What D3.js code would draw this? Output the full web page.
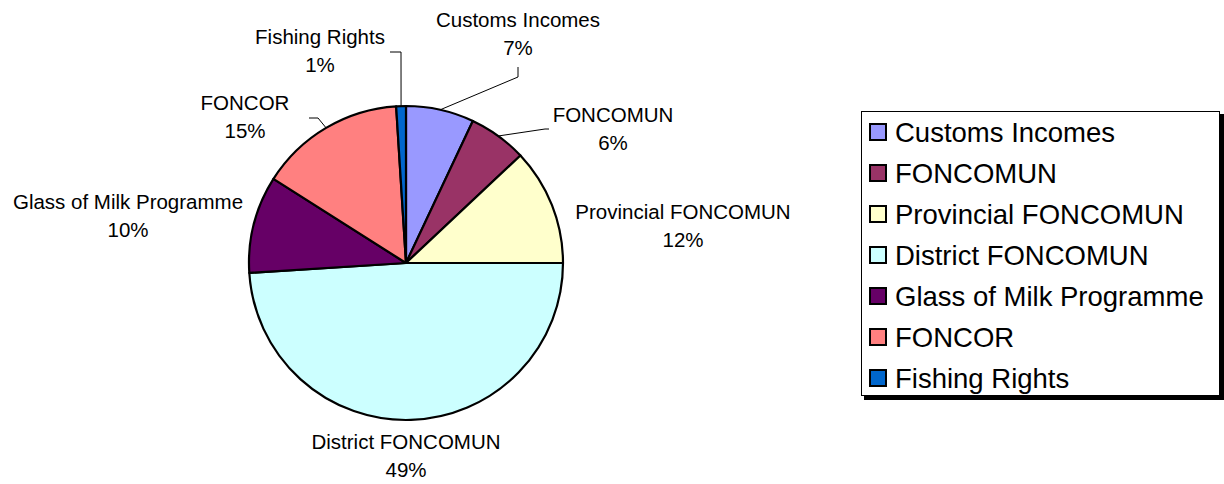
<!DOCTYPE html>
<html>
<head>
<meta charset="utf-8">
<script src="https://cdn.jsdelivr.net/npm/d3@7"></script>
<style>
  body { margin: 0; background: #fff; }
  text { font-family: "Liberation Sans", Arial, sans-serif; fill: #000; }
</style>
</head>
<body>
<div id="chart-area"></div>
<script>
// categories and shares (percent)
let categories = ["Customs Incomes", "FONCOMUN", "Provincial FONCOMUN", "District FONCOMUN",
    "Glass of Milk Programme", "FONCOR", "Fishing Rights"];
let shares = [7, 6, 12, 49, 10, 15, 1];
let colors = ["#9999FF", "#993366", "#FFFFCC", "#CCFFFF", "#660066", "#FF8080", "#0066CC"];

// label placement (offset of label centre from pie centre) + leader elbows
let labelPos = [
    {dx: 112, dy: -229, leader: [[112, -186], [112, -196]]},
    {dx: 207, dy: -134, leader: [[139, -134], [143, -134]]},
    {dx: 277, dy: -37, leader: null},
    {dx: 0, dy: 193, leader: null},
    {dx: -278, dy: -47, leader: null},
    {dx: -161, dy: -146, leader: [[-88, -145], [-97, -145]]},
    {dx: -86, dy: -212, leader: [[-5, -211], [-16, -211]]}
];

let width = 1224, height = 484;
let cx = 406, cy = 263, radius = 157;

let svg = d3.select("#chart-area").append("svg")
    .attr("width", width)
    .attr("height", height);

let data = categories.map((c, i) => ({name: c, value: shares[i], color: colors[i], lp: labelPos[i]}));

let pie = d3.pie().sort(null).value(d => d.value);
let arc = d3.arc().innerRadius(0).outerRadius(radius);
let arcs = pie(data);

let g = svg.append("g").attr("transform", "translate(" + cx + "," + cy + ")");

g.selectAll(".slice")
    .data(arcs)
    .enter().append("path")
    .attr("class", "slice")
    .attr("d", arc)
    .style("fill", d => d.data.color)
    .style("stroke", "#000")
    .style("stroke-width", 2.2)
    .style("stroke-linejoin", "round");

// leader lines
let line = d3.line();
g.selectAll(".leader")
    .data(arcs.filter(d => d.data.lp.leader))
    .enter().append("path")
    .attr("class", "leader")
    .attr("d", d => {
        let mid = (d.startAngle + d.endAngle) / 2;
        let p0 = [radius * Math.sin(mid), -radius * Math.cos(mid)];
        return line([p0].concat(d.data.lp.leader));
    })
    .style("fill", "none")
    .style("stroke", "#000")
    .style("stroke-width", 1);

// labels
let labels = g.selectAll(".label")
    .data(arcs)
    .enter().append("text")
    .attr("class", "label")
    .attr("text-anchor", "middle")
    .style("font-size", "20.5px");

labels.append("tspan")
    .attr("x", d => d.data.lp.dx)
    .attr("y", d => d.data.lp.dy - 14)
    .attr("dy", "0.35em")
    .text(d => d.data.name);

labels.append("tspan")
    .attr("x", d => d.data.lp.dx)
    .attr("y", d => d.data.lp.dy + 14)
    .attr("dy", "0.35em")
    .text(d => d3.format(".0%")(d.data.value / d3.sum(shares)));

// legend
let legend = svg.append("g").attr("transform", "translate(861,111)");
legend.append("rect")
    .attr("x", 3).attr("y", 3)
    .attr("width", 360).attr("height", 286)
    .style("fill", "#000");
legend.append("rect")
    .attr("x", 0.5).attr("y", 0.5)
    .attr("width", 358).attr("height", 284)
    .style("fill", "#fff")
    .style("stroke", "#000")
    .style("stroke-width", 1);

let rowY = d3.scalePoint().domain(categories).range([21, 267]);

let items = legend.selectAll(".item")
    .data(data)
    .enter().append("g")
    .attr("class", "item")
    .attr("transform", d => "translate(0," + rowY(d.name) + ")");

items.append("rect")
    .attr("x", 9).attr("y", -8)
    .attr("width", 16).attr("height", 16)
    .style("fill", d => d.color)
    .style("stroke", "#000")
    .style("stroke-width", 2);

items.append("text")
    .attr("x", 34)
    .attr("dy", "0.36em")
    .style("font-size", "27.5px")
    .text(d => d.name);
</script>
</body>
</html>
